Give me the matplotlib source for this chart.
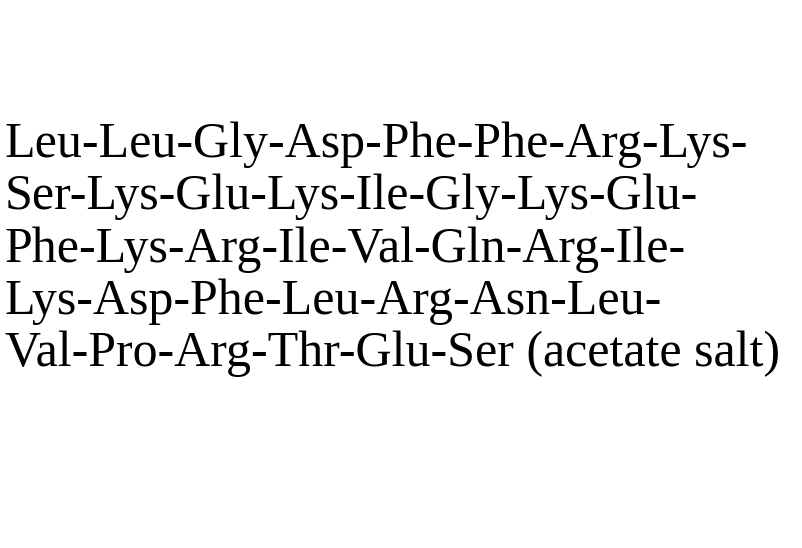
import matplotlib
matplotlib.use("Agg")
from matplotlib import pyplot as plt

lines = [
    "Leu-Leu-Gly-Asp-Phe-Phe-Arg-Lys-",
    "Ser-Lys-Glu-Lys-Ile-Gly-Lys-Glu-",
    "Phe-Lys-Arg-Ile-Val-Gln-Arg-Ile-",
    "Lys-Asp-Phe-Leu-Arg-Asn-Leu-",
    "Val-Pro-Arg-Thr-Glu-Ser (acetate salt)",
]

W, H = 802, 548
fig = plt.figure(figsize=(W / 100, H / 100), dpi=100)
fig.patch.set_facecolor("white")

# baselines in pixels from the top
first_baseline = 157
line_step = 52.3
for i, s in enumerate(lines):
    y = first_baseline + i * line_step
    fig.text(5 / W, 1 - y / H, s, family="Liberation Serif", fontsize=36,
             color="black", ha="left", va="baseline")

fig.savefig("out.png", dpi=100, facecolor="white")
